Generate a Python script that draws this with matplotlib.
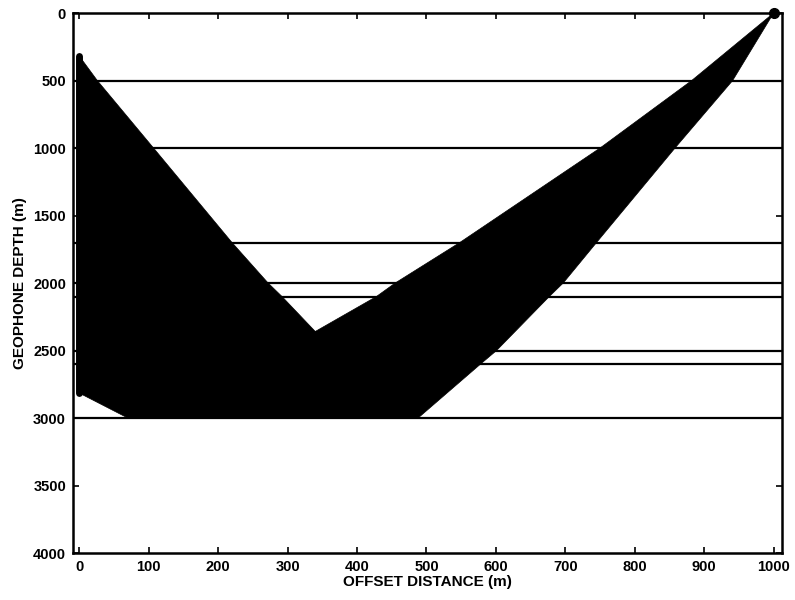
import matplotlib
matplotlib.use("Agg")
import matplotlib.pyplot as plt

#profondeur des couches (m)
couches=[500,1000,1700,2000,2100,2500,2600,3000]

#source en surface
source_x=1000
source_z=0

#geophones au puits (offset 0)
geophone_haut=318
geophone_bas=2815

#rayon descendant vers le point de reflexion le plus proche du puits
descente_proche_x=[1000,882,750,548,455,428,292,255,70]
descente_proche_z=[0,500,1000,1700,2000,2100,2500,2600,3000]

#rayon descendant vers le point de reflexion le plus loin
descente_loin_x=[1000,941,858,745,697,677,601,578,488]
descente_loin_z=[0,500,1000,1700,2000,2100,2500,2600,3000]

#rayon montant vers le geophone le plus haut
montee_haut_x=[0,26,107,220,272,292,366,392,488]
montee_haut_z=[318,500,1000,1700,2000,2100,2500,2600,3000]

#rayon montant vers le geophone le plus bas
montee_bas_x=[0,70]
montee_bas_z=[2815,3000]


fig=plt.figure(figsize=(7.95,6.0),dpi=100)
ax=fig.add_axes([0.0918,0.0783,0.8918,0.9])

#les couches
for c in couches:
    ax.axhline(c,color="black",lw=1.6,zorder=2)

#faisceau descendant
x_desc=descente_proche_x+descente_loin_x[::-1]
z_desc=descente_proche_z+descente_loin_z[::-1]
ax.fill(x_desc,z_desc,color="black",lw=0.5,zorder=3)

#faisceau montant
x_mont=montee_haut_x+montee_bas_x[::-1]
z_mont=montee_haut_z+montee_bas_z[::-1]
ax.fill(x_mont,z_mont,color="black",lw=0.5,zorder=3)

#geophones et source
ax.plot([0,0],[geophone_haut,geophone_bas],color="black",lw=5,solid_capstyle="round",zorder=4)
ax.plot(source_x,source_z,marker="o",markersize=7,color="black",clip_on=False,zorder=5)

ax.set_xlim(-9,1012)
ax.set_ylim(4000,0)
ax.set_xticks(range(0,1001,100))
ax.set_yticks(range(0,4001,500))

police="Liberation Sans"
ax.tick_params(direction="in",length=4,width=1.2,top=True,right=True,pad=5)
for lab in ax.get_xticklabels()+ax.get_yticklabels():
    lab.set_fontfamily(police)
    lab.set_fontweight("bold")
    lab.set_fontsize(10.5)
for s in ax.spines.values():
    s.set_linewidth(1.8)

ax.set_xlabel("OFFSET DISTANCE (m)",fontfamily=police,fontweight="bold",fontsize=11,labelpad=1)
ax.set_ylabel("GEOPHONE DEPTH (m)",fontfamily=police,fontweight="bold",fontsize=11,labelpad=4)

fig.savefig("out.png",dpi=100)
